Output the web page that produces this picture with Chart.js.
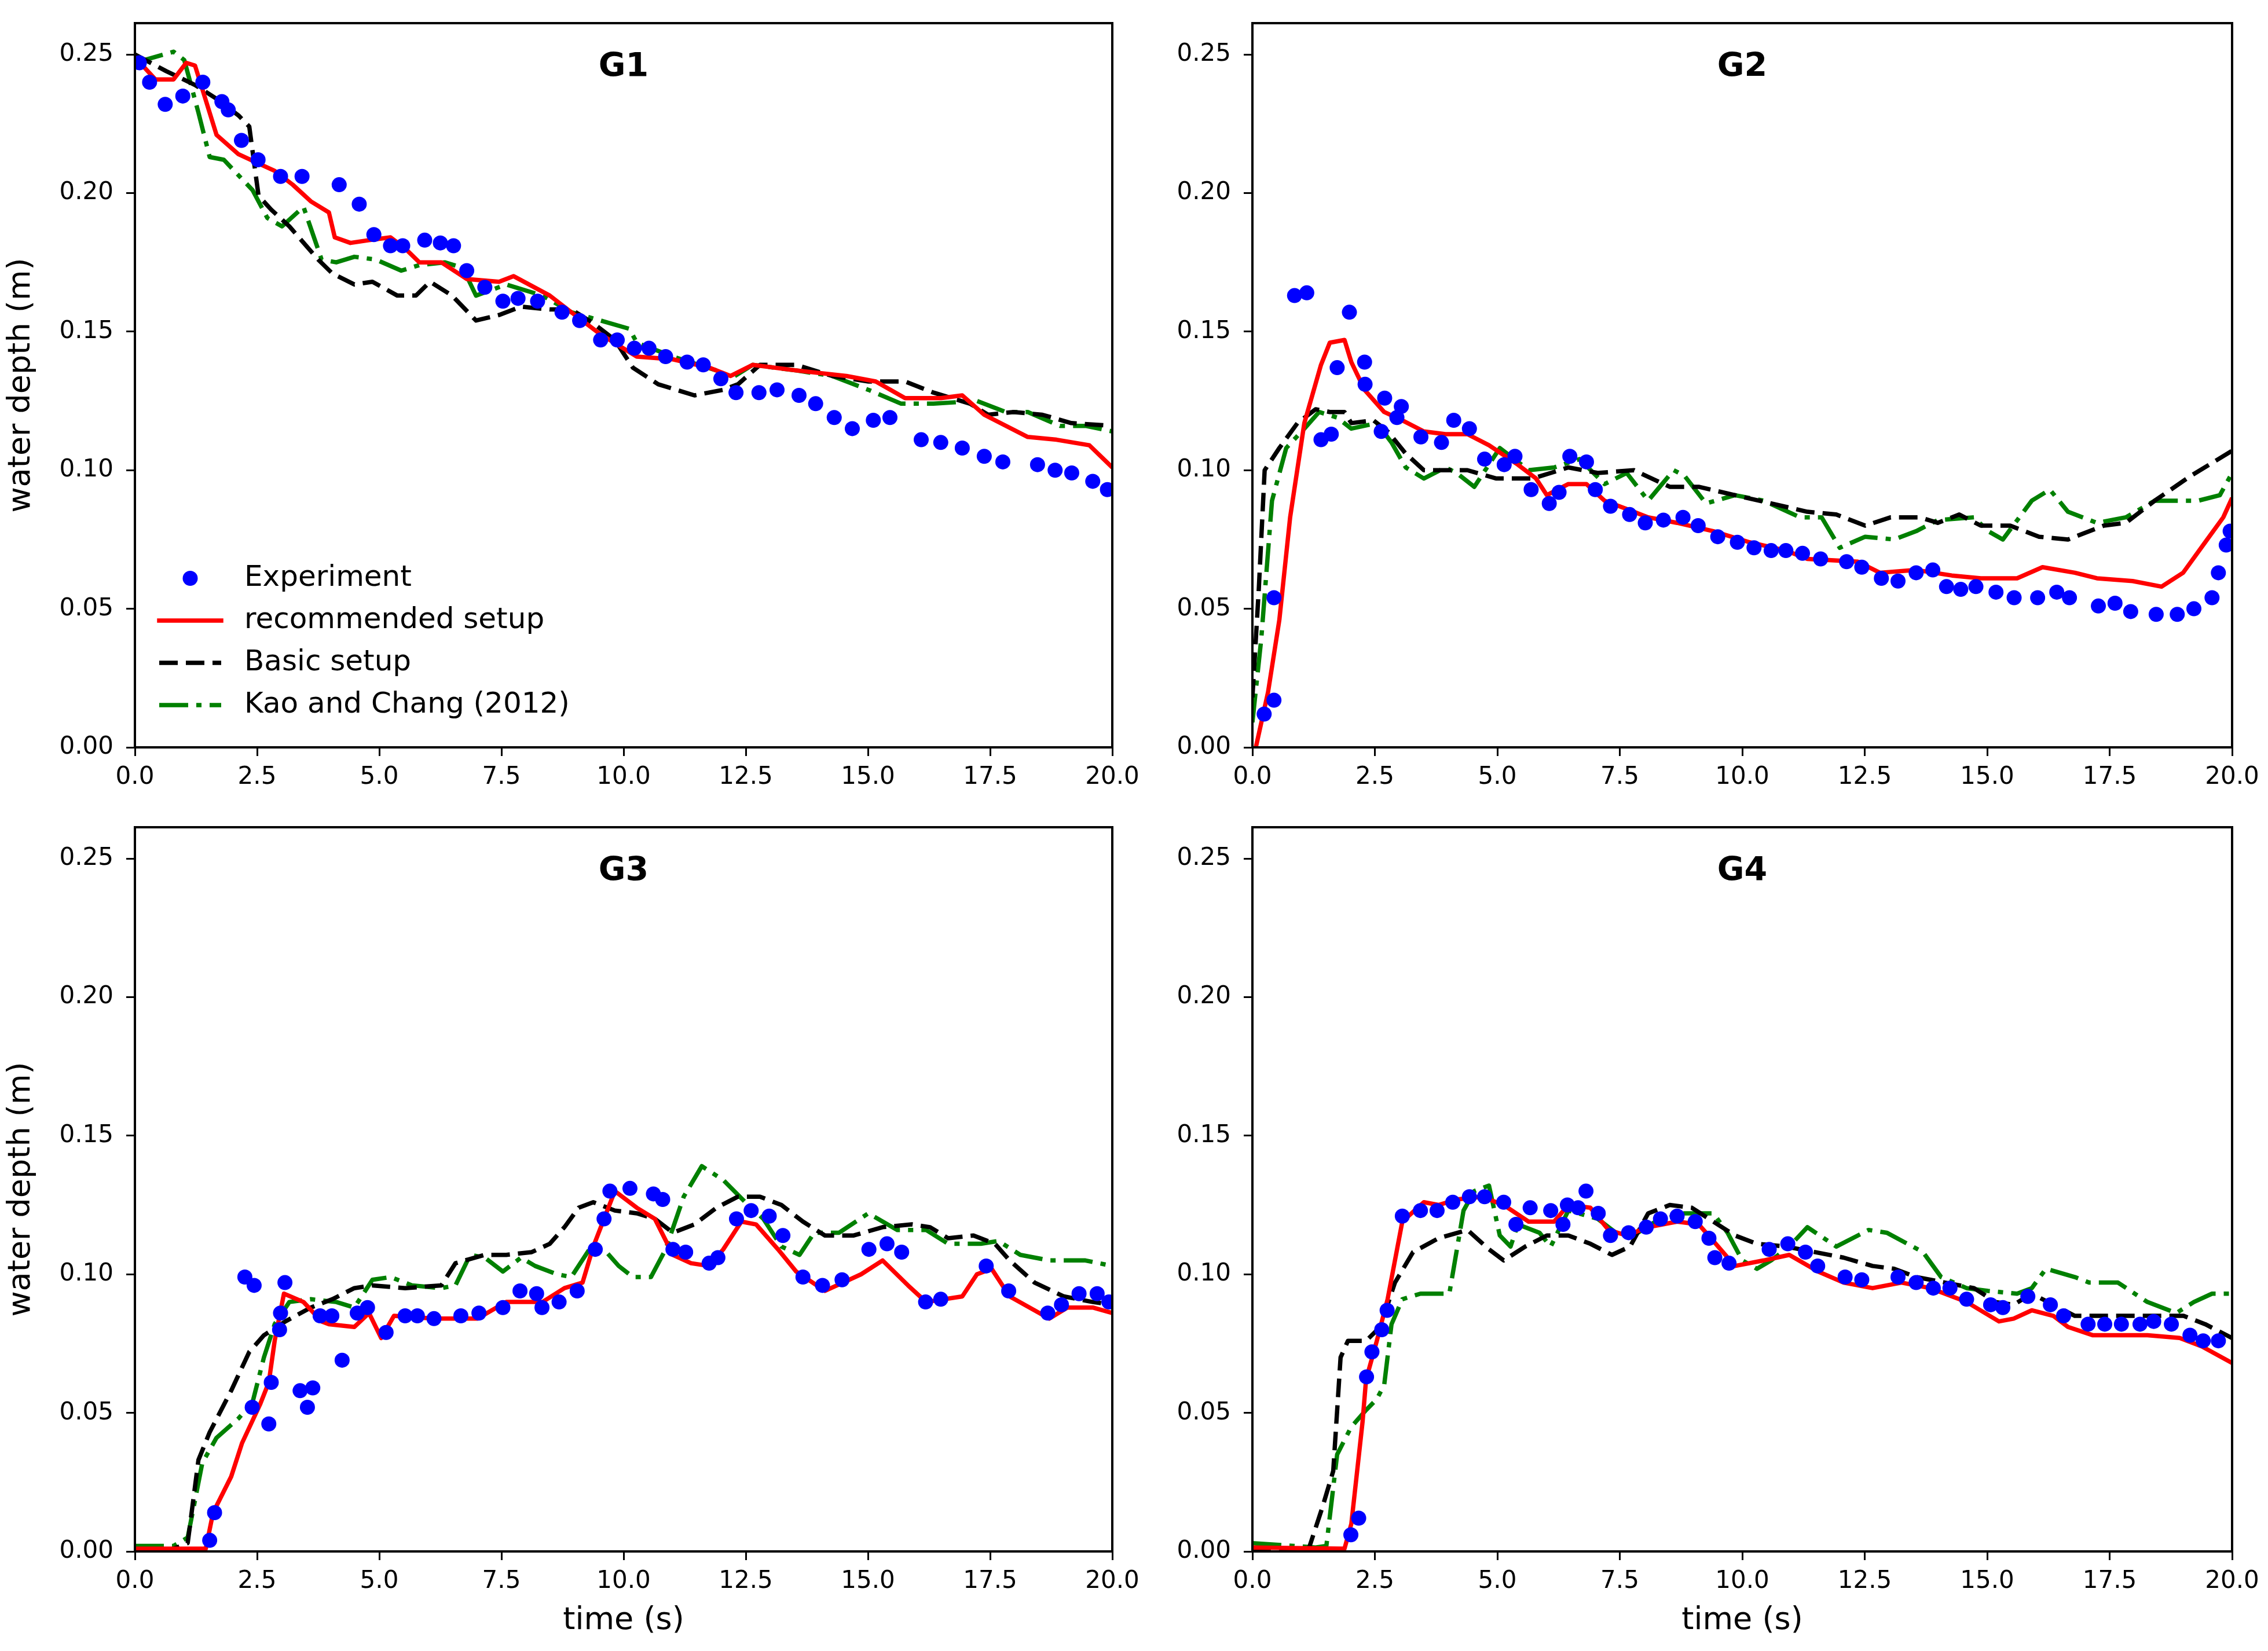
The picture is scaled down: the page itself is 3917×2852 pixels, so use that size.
<!DOCTYPE html>
<html>
<head>
<meta charset="utf-8">
<script src="https://cdn.jsdelivr.net/npm/chart.js@4.4.1/dist/chart.umd.min.js"></script>
<style>
  html, body { margin: 0; padding: 0; background: #fff; }
  body { width: 3917px; height: 2852px; position: relative; overflow: hidden; }
  canvas { position: absolute; }
</style>
</head>
<body>
<canvas id="g1" width="2000" height="1400" style="left:0;top:0;width:2000px;height:1400px"></canvas>
<canvas id="g2" width="1959" height="1400" style="left:1958px;top:0;width:1959px;height:1400px"></canvas>
<canvas id="g3" width="2000" height="1452" style="left:0;top:1400px;width:2000px;height:1452px"></canvas>
<canvas id="g4" width="1959" height="1452" style="left:1958px;top:1400px;width:1959px;height:1452px"></canvas>
<script>
// axis ticks
const xTicks = [0, 2.5, 5, 7.5, 10, 12.5, 15, 17.5, 20];
const yTicks = [0, 0.05, 0.1, 0.15, 0.2, 0.25];
const seriesNames = ["Experiment", "recommended setup", "Basic setup", "Kao and Chang (2012)"];

// G1  [time (s), depth (m)]
const g1Exp = [[0.09,0.247],[0.30,0.240],[0.62,0.232],[0.98,0.235],[1.39,0.240],[1.78,0.233],[1.91,0.230],[2.18,0.219],[2.52,0.212],[2.98,0.206],[3.42,0.206],[4.18,0.203],[4.59,0.196],[4.89,0.185],[5.23,0.181],[5.48,0.181],[5.93,0.183],[6.25,0.182],[6.52,0.181],[6.79,0.172],[7.16,0.166],[7.53,0.161],[7.84,0.162],[8.24,0.161],[8.74,0.157],[9.10,0.154],[9.53,0.147],[9.87,0.147],[10.22,0.144],[10.52,0.144],[10.86,0.141],[11.30,0.139],[11.63,0.138],[11.99,0.133],[12.30,0.128],[12.77,0.128],[13.14,0.129],[13.59,0.127],[13.93,0.124],[14.31,0.119],[14.68,0.115],[15.11,0.118],[15.45,0.119],[16.09,0.111],[16.49,0.110],[16.93,0.108],[17.38,0.105],[17.76,0.103],[18.47,0.102],[18.83,0.100],[19.17,0.099],[19.60,0.096],[19.90,0.093]];
const g1Rec = [[0,0.249],[0.42,0.241],[0.79,0.241],[1.05,0.247],[1.23,0.246],[1.67,0.221],[2.12,0.214],[2.49,0.211],[2.86,0.208],[3.23,0.203],[3.60,0.197],[3.97,0.193],[4.09,0.184],[4.41,0.182],[4.79,0.183],[5.23,0.184],[5.53,0.180],[5.82,0.175],[6.27,0.175],[6.79,0.169],[7.45,0.168],[7.75,0.170],[8.49,0.163],[8.93,0.157],[9.53,0.149],[10.27,0.141],[11.01,0.140],[11.75,0.137],[12.19,0.134],[12.64,0.138],[13.53,0.136],[14.56,0.134],[15.16,0.132],[15.76,0.126],[16.49,0.126],[16.93,0.127],[17.38,0.120],[18.27,0.112],[18.86,0.111],[19.53,0.109],[20.0,0.101]];
const g1Basic = [[0,0.250],[0.64,0.244],[1.23,0.239],[1.67,0.234],[2.12,0.228],[2.34,0.224],[2.53,0.199],[2.79,0.194],[3.16,0.188],[3.75,0.176],[4.04,0.171],[4.49,0.167],[4.86,0.168],[5.37,0.163],[5.75,0.163],[6.04,0.168],[6.49,0.163],[6.98,0.154],[7.45,0.156],[7.90,0.159],[8.49,0.158],[8.93,0.158],[9.38,0.153],[9.82,0.147],[10.19,0.137],[10.71,0.131],[11.45,0.127],[12.04,0.129],[12.34,0.131],[12.79,0.138],[13.53,0.138],[14.27,0.134],[15.01,0.132],[15.76,0.132],[16.34,0.128],[17.09,0.124],[17.46,0.120],[17.98,0.121],[18.57,0.120],[19.16,0.117],[20.0,0.116]];
const g1Kao = [[0,0.247],[0.79,0.251],[1.01,0.248],[1.30,0.229],[1.53,0.213],[1.82,0.212],[2.41,0.201],[2.71,0.191],[3.01,0.188],[3.45,0.195],[3.82,0.176],[4.12,0.175],[4.49,0.177],[4.93,0.176],[5.45,0.172],[5.82,0.174],[6.34,0.175],[6.71,0.173],[6.98,0.163],[7.60,0.167],[8.34,0.163],[8.93,0.157],[9.53,0.154],[10.12,0.151],[10.27,0.146],[11.01,0.141],[11.90,0.136],[12.19,0.133],[12.64,0.138],[13.53,0.136],[14.27,0.134],[15.01,0.129],[15.68,0.124],[16.34,0.124],[17.23,0.125],[17.82,0.121],[18.27,0.121],[18.93,0.116],[19.45,0.116],[20.0,0.114]];

// G2
const g2Exp = [[0.24,0.012],[0.44,0.017],[0.44,0.054],[0.86,0.163],[1.11,0.164],[1.40,0.111],[1.61,0.113],[1.73,0.137],[1.98,0.157],[2.29,0.139],[2.30,0.131],[2.63,0.114],[2.70,0.126],[2.95,0.119],[3.04,0.123],[3.44,0.112],[3.86,0.110],[4.11,0.118],[4.43,0.115],[4.74,0.104],[5.14,0.102],[5.36,0.105],[5.69,0.093],[6.06,0.088],[6.26,0.092],[6.48,0.105],[6.82,0.103],[7.00,0.093],[7.31,0.087],[7.70,0.084],[8.02,0.081],[8.39,0.082],[8.79,0.083],[9.10,0.080],[9.50,0.076],[9.90,0.074],[10.24,0.072],[10.59,0.071],[10.89,0.071],[11.23,0.070],[11.60,0.068],[12.13,0.067],[12.44,0.065],[12.84,0.061],[13.18,0.060],[13.55,0.063],[13.89,0.064],[14.17,0.058],[14.46,0.057],[14.77,0.058],[15.18,0.056],[15.55,0.054],[16.03,0.054],[16.42,0.056],[16.68,0.054],[17.27,0.051],[17.61,0.052],[17.93,0.049],[18.45,0.048],[18.88,0.048],[19.22,0.050],[19.59,0.054],[19.72,0.063],[19.88,0.073],[19.96,0.078]];
const g2Rec = [[0.07,0],[0.32,0.020],[0.55,0.046],[0.77,0.083],[1.06,0.117],[1.40,0.138],[1.58,0.146],[1.88,0.147],[2.02,0.139],[2.29,0.129],[2.69,0.121],[3.06,0.118],[3.50,0.114],[3.94,0.113],[4.39,0.113],[4.83,0.109],[5.42,0.102],[5.79,0.097],[6.01,0.091],[6.45,0.095],[6.82,0.095],[7.19,0.089],[7.64,0.086],[8.08,0.083],[8.67,0.081],[9.41,0.078],[10.15,0.074],[10.89,0.071],[11.33,0.068],[12.36,0.067],[12.81,0.063],[13.55,0.064],[14.28,0.062],[14.87,0.061],[15.61,0.061],[16.13,0.065],[16.79,0.063],[17.24,0.061],[17.97,0.060],[18.56,0.058],[19.0,0.063],[19.45,0.074],[19.82,0.083],[20.0,0.090]];
const g2Basic = [[0,0.018],[0.13,0.057],[0.25,0.100],[0.55,0.108],[0.92,0.117],[1.29,0.122],[1.58,0.121],[1.88,0.121],[2.02,0.117],[2.47,0.118],[2.76,0.114],[3.13,0.106],[3.50,0.100],[3.94,0.100],[4.39,0.100],[4.98,0.097],[5.72,0.097],[6.09,0.099],[6.45,0.101],[7.05,0.099],[7.79,0.100],[8.52,0.094],[9.11,0.094],[9.85,0.091],[10.59,0.088],[11.33,0.085],[11.92,0.084],[12.51,0.080],[13.03,0.083],[13.62,0.083],[13.99,0.081],[14.43,0.084],[14.87,0.080],[15.47,0.080],[16.06,0.076],[16.65,0.075],[17.38,0.080],[17.83,0.081],[18.42,0.089],[19.16,0.098],[20.0,0.107]];
const g2Kao = [[0,0.009],[0.18,0.039],[0.40,0.089],[0.69,0.108],[1.06,0.115],[1.36,0.121],[1.73,0.119],[2.02,0.115],[2.54,0.117],[2.84,0.110],[3.13,0.101],[3.50,0.097],[3.94,0.101],[4.17,0.099],[4.53,0.094],[5.05,0.108],[5.64,0.100],[6.16,0.101],[6.68,0.104],[7.19,0.095],[7.64,0.099],[8.08,0.089],[8.60,0.100],[8.82,0.098],[9.26,0.088],[9.85,0.091],[10.44,0.089],[11.18,0.083],[11.62,0.083],[11.99,0.072],[12.51,0.076],[13.10,0.075],[13.55,0.078],[13.99,0.082],[14.73,0.083],[15.02,0.078],[15.32,0.075],[15.91,0.089],[16.28,0.093],[16.65,0.085],[17.24,0.081],[17.83,0.083],[18.42,0.089],[19.31,0.089],[19.75,0.091],[20.0,0.099]];

// G3
const g3Exp = [[1.53,0.004],[1.63,0.014],[2.25,0.099],[2.44,0.096],[2.40,0.052],[2.74,0.046],[2.79,0.061],[2.96,0.080],[2.98,0.086],[3.07,0.097],[3.38,0.058],[3.53,0.052],[3.64,0.059],[3.79,0.085],[4.03,0.085],[4.24,0.069],[4.55,0.086],[4.76,0.088],[5.14,0.079],[5.53,0.085],[5.78,0.085],[6.12,0.084],[6.67,0.085],[7.04,0.086],[7.53,0.088],[7.88,0.094],[8.22,0.093],[8.33,0.088],[8.68,0.090],[9.05,0.094],[9.42,0.109],[9.60,0.120],[9.72,0.130],[10.13,0.131],[10.61,0.129],[10.80,0.127],[11.01,0.109],[11.27,0.108],[11.75,0.104],[11.93,0.106],[12.31,0.120],[12.61,0.123],[12.98,0.121],[13.26,0.114],[13.67,0.099],[14.07,0.096],[14.47,0.098],[15.02,0.109],[15.39,0.111],[15.69,0.108],[16.18,0.090],[16.49,0.091],[17.42,0.103],[17.88,0.094],[18.68,0.086],[18.96,0.089],[19.32,0.093],[19.69,0.093],[19.93,0.090]];
const g3Rec = [[0,0.001],[1.45,0.001],[1.60,0.014],[1.97,0.027],[2.19,0.039],[2.56,0.053],[2.74,0.061],[2.86,0.076],[3.05,0.093],[3.45,0.090],[3.82,0.083],[3.97,0.082],[4.49,0.081],[4.79,0.086],[5.04,0.077],[5.30,0.085],[6.12,0.084],[7.01,0.084],[7.60,0.090],[8.34,0.090],[8.79,0.095],[9.16,0.097],[9.38,0.110],[9.82,0.130],[10.27,0.124],[10.64,0.120],[11.01,0.107],[11.38,0.104],[11.75,0.103],[12.04,0.109],[12.41,0.119],[12.71,0.118],[13.16,0.109],[13.53,0.101],[14.12,0.094],[14.49,0.097],[14.86,0.100],[15.30,0.105],[15.82,0.096],[16.19,0.090],[16.93,0.092],[17.23,0.100],[17.53,0.102],[17.90,0.092],[18.71,0.084],[19.08,0.088],[19.60,0.088],[20.0,0.086]];
const g3Basic = [[0,0.0004],[0.71,0.0004],[1.08,0.003],[1.30,0.033],[1.53,0.043],[1.97,0.058],[2.34,0.072],[2.64,0.078],[3.08,0.083],[3.60,0.088],[4.04,0.091],[4.49,0.095],[4.86,0.096],[5.53,0.095],[6.27,0.096],[6.56,0.104],[7.16,0.107],[7.60,0.107],[8.12,0.108],[8.49,0.111],[8.79,0.117],[9.08,0.124],[9.38,0.126],[9.82,0.123],[10.27,0.122],[10.64,0.120],[11.01,0.115],[11.45,0.118],[11.90,0.124],[12.34,0.128],[12.79,0.128],[13.23,0.125],[13.67,0.119],[14.12,0.114],[14.71,0.114],[15.30,0.117],[15.90,0.118],[16.27,0.117],[16.64,0.113],[17.16,0.114],[17.60,0.111],[17.90,0.105],[18.41,0.097],[19.01,0.092],[19.60,0.090],[20.0,0.089]];
const g3Kao = [[0,0.002],[0.79,0.002],[1.08,0.005],[1.38,0.032],[1.67,0.041],[2.12,0.048],[2.41,0.054],[2.64,0.070],[2.86,0.082],[3.16,0.090],[3.60,0.091],[4.12,0.090],[4.49,0.088],[4.86,0.098],[5.23,0.099],[5.67,0.096],[6.27,0.095],[6.56,0.096],[6.86,0.107],[7.16,0.106],[7.53,0.101],[7.90,0.106],[8.19,0.103],[8.64,0.100],[8.93,0.099],[9.30,0.109],[9.60,0.109],[9.90,0.103],[10.19,0.099],[10.56,0.099],[10.86,0.109],[11.23,0.128],[11.60,0.139],[12.04,0.134],[12.49,0.126],[12.86,0.120],[13.23,0.110],[13.60,0.107],[13.90,0.115],[14.41,0.115],[15.01,0.122],[15.60,0.116],[16.19,0.116],[16.64,0.111],[17.31,0.111],[17.67,0.112],[18.12,0.107],[18.71,0.105],[19.45,0.105],[20.0,0.103]];

// G4
const g4Exp = [[2.01,0.006],[2.17,0.012],[2.33,0.063],[2.44,0.072],[2.64,0.080],[2.75,0.087],[3.06,0.121],[3.43,0.123],[3.77,0.123],[4.09,0.126],[4.43,0.128],[4.74,0.128],[5.13,0.126],[5.38,0.118],[5.67,0.124],[6.09,0.123],[6.34,0.118],[6.43,0.125],[6.65,0.124],[6.81,0.130],[7.06,0.122],[7.31,0.114],[7.68,0.115],[8.04,0.117],[8.33,0.120],[8.67,0.121],[9.04,0.119],[9.32,0.113],[9.44,0.106],[9.73,0.104],[10.55,0.109],[10.93,0.111],[11.29,0.108],[11.54,0.103],[12.10,0.099],[12.44,0.098],[13.18,0.099],[13.55,0.097],[13.90,0.095],[14.24,0.095],[14.58,0.091],[15.07,0.089],[15.32,0.088],[15.83,0.092],[16.29,0.089],[16.56,0.085],[17.06,0.082],[17.40,0.082],[17.74,0.082],[18.12,0.082],[18.40,0.083],[18.76,0.082],[19.14,0.078],[19.41,0.076],[19.72,0.076]];
const g4Rec = [[0,0.0014],[1.88,0.001],[2.02,0.010],[2.25,0.047],[2.32,0.062],[2.54,0.076],[2.76,0.091],[3.06,0.119],[3.50,0.126],[3.80,0.125],[4.17,0.127],[4.68,0.128],[5.13,0.125],[5.64,0.119],[6.16,0.119],[6.45,0.125],[6.90,0.124],[7.27,0.116],[7.64,0.114],[8.08,0.117],[8.67,0.119],[9.11,0.118],[9.41,0.112],[9.85,0.103],[10.44,0.105],[10.96,0.107],[11.55,0.101],[12.07,0.097],[12.66,0.095],[13.25,0.097],[13.84,0.095],[14.58,0.090],[15.24,0.083],[15.54,0.084],[15.91,0.087],[16.35,0.085],[16.65,0.081],[17.16,0.078],[17.61,0.078],[18.27,0.078],[18.93,0.077],[19.38,0.074],[20.0,0.068]];
const g4Basic = [[0,0.0008],[1.14,0.0004],[1.43,0.016],[1.65,0.029],[1.80,0.070],[1.95,0.076],[2.32,0.076],[2.61,0.081],[2.91,0.097],[3.28,0.108],[3.80,0.113],[4.39,0.116],[4.83,0.109],[5.13,0.105],[5.57,0.110],[6.01,0.114],[6.45,0.114],[6.90,0.111],[7.34,0.107],[7.71,0.110],[8.08,0.122],[8.52,0.125],[8.97,0.124],[9.41,0.119],[9.85,0.114],[10.30,0.111],[10.89,0.110],[11.48,0.108],[12.07,0.106],[12.66,0.103],[13.10,0.102],[13.55,0.099],[14.14,0.097],[14.73,0.095],[15.17,0.090],[15.54,0.089],[15.91,0.093],[16.35,0.089],[16.79,0.085],[17.38,0.085],[18.27,0.085],[19.01,0.085],[19.45,0.082],[20.0,0.077]];
const g4Kao = [[0,0.003],[0.84,0.002],[1.29,0.0014],[1.51,0.002],[1.73,0.035],[2.02,0.045],[2.32,0.051],[2.54,0.055],[2.69,0.060],[2.84,0.082],[3.06,0.091],[3.43,0.093],[4.02,0.093],[4.31,0.123],[4.53,0.130],[4.83,0.132],[5.05,0.114],[5.27,0.110],[5.42,0.118],[5.86,0.115],[6.09,0.110],[6.45,0.123],[7.05,0.120],[7.42,0.115],[7.78,0.114],[8.23,0.119],[8.82,0.122],[9.41,0.122],[9.70,0.115],[10.0,0.105],[10.30,0.102],[10.59,0.105],[10.96,0.110],[11.33,0.117],[11.92,0.110],[12.36,0.114],[12.58,0.116],[12.95,0.115],[13.69,0.108],[14.06,0.099],[14.58,0.095],[15.02,0.094],[15.61,0.093],[15.91,0.095],[16.20,0.102],[16.79,0.099],[17.08,0.097],[17.67,0.097],[18.27,0.090],[18.86,0.086],[19.22,0.090],[19.59,0.093],[20.0,0.093]];

Chart.defaults.font.family = '"DejaVu Sans"';
Chart.defaults.color = "#000";

// frame, panel label and (optional) legend drawn inside the axes
const panelDecor = {
  id: "panelDecor",
  afterDraw(chart, args, opts) {
    const { ctx, chartArea: a } = chart;
    ctx.save();
    ctx.strokeStyle = "#000";
    ctx.lineWidth = 4;
    ctx.strokeRect(a.left, a.top, a.right - a.left, a.bottom - a.top);

    ctx.fillStyle = "#000";
    ctx.font = 'bold 57px "DejaVu Sans"';
    ctx.textAlign = "center";
    ctx.textBaseline = "middle";
    ctx.fillText(opts.label, (a.left + a.right) / 2, a.top + 77);

    if (opts.legend) {
      const x0 = a.left + 42, x1 = a.left + 149;
      ctx.font = '50px "DejaVu Sans"';
      ctx.textAlign = "left";
      chart.data.datasets.forEach((ds, i) => {
        const y = a.bottom - 292 + i * 73;
        if (ds.showLine) {
          ctx.strokeStyle = ds.borderColor;
          ctx.lineWidth = ds.borderWidth;
          ctx.setLineDash(ds.borderDash || []);
          ctx.lineCap = ds.borderDash ? "butt" : "square";
          ctx.beginPath();
          ctx.moveTo(x0, y);
          ctx.lineTo(x1, y);
          ctx.stroke();
          ctx.setLineDash([]);
        } else {
          ctx.fillStyle = ds.pointBackgroundColor;
          ctx.beginPath();
          ctx.arc((x0 + x1) / 2, y, ds.pointRadius, 0, Math.PI * 2);
          ctx.fill();
        }
        ctx.fillStyle = "#000";
        ctx.fillText(ds.label, a.left + 189, y);
      });
    }
    ctx.restore();
  }
};

const toXY = (pts) => pts.map(([x, y]) => ({ x, y }));

function lineSet(label, pts, color, dash) {
  return {
    label,
    data: toXY(pts),
    showLine: true,
    borderColor: color,
    borderWidth: 7.5,
    borderDash: dash,
    borderJoinStyle: "round",
    pointRadius: 0,
    tension: 0,
    clip: 0
  };
}

function panel(id, label, series, opts) {
  const [exp, rec, basic, kao] = series;
  new Chart(document.getElementById(id), {
    type: "scatter",
    data: {
      datasets: [
        {
          label: seriesNames[0],
          data: toXY(exp),
          showLine: false,
          pointRadius: 13,
          pointBorderWidth: 0,
          pointBackgroundColor: "#0000ff",
          pointBorderColor: "#0000ff",
          clip: 0
        },
        lineSet(seriesNames[1], rec, "#ff0000"),
        lineSet(seriesNames[2], basic, "#000000", [32, 14]),
        lineSet(seriesNames[3], kao, "#008000", [50, 14, 9, 14])
      ]
    },
    options: {
      responsive: false,
      animation: false,
      devicePixelRatio: 1,
      layout: { padding: { top: opts.padTop, right: opts.padRight, left: 0, bottom: 0 } },
      plugins: {
        legend: { display: false },
        tooltip: { enabled: false },
        panelDecor: { label, legend: opts.legend }
      },
      scales: {
        x: {
          type: "linear",
          min: 0,
          max: 20,
          afterBuildTicks: (s) => { s.ticks = xTicks.map((v) => ({ value: v })); },
          afterFit: (s) => { s.height = opts.xHeight; s.paddingLeft = 0; s.paddingRight = 0; },
          grid: { display: true, drawOnChartArea: false, drawTicks: true, tickLength: 15, color: "#000", lineWidth: 3 },
          border: { display: false },
          ticks: { padding: 12, font: { size: 42 }, color: "#000", maxRotation: 0, callback: (v) => Number(v).toFixed(1) },
          title: { display: opts.xTitle, text: "time (s)", font: { size: 54 }, color: "#000", padding: { top: 0, bottom: 20 } }
        },
        y: {
          type: "linear",
          min: 0,
          max: 0.2613,
          afterBuildTicks: (s) => { s.ticks = yTicks.map((v) => ({ value: v })); },
          afterFit: (s) => { s.width = opts.yWidth; s.paddingTop = 0; s.paddingBottom = 0; },
          grid: { display: true, drawOnChartArea: false, drawTicks: true, tickLength: 15, color: "#000", lineWidth: 3 },
          border: { display: false },
          ticks: { padding: 22, font: { size: 42 }, color: "#000", callback: (v) => Number(v).toFixed(2) },
          title: { display: opts.yTitle, text: "water depth (m)", font: { size: 54 }, color: "#000", padding: { top: 5, bottom: 0 } }
        }
      }
    },
    plugins: [panelDecor]
  });
}

panel("g1", "G1", [g1Exp, g1Rec, g1Basic, g1Kao], { padTop: 40, padRight: 79, xHeight: 109, yWidth: 233, xTitle: false, yTitle: true, legend: true });
panel("g2", "G2", [g2Exp, g2Rec, g2Basic, g2Kao], { padTop: 40, padRight: 62, xHeight: 109, yWidth: 205, xTitle: false, yTitle: false, legend: false });
panel("g3", "G3", [g3Exp, g3Rec, g3Basic, g3Kao], { padTop: 29, padRight: 79, xHeight: 172, yWidth: 233, xTitle: true, yTitle: true, legend: false });
panel("g4", "G4", [g4Exp, g4Rec, g4Basic, g4Kao], { padTop: 29, padRight: 62, xHeight: 172, yWidth: 205, xTitle: true, yTitle: false, legend: false });
</script>
</body>
</html>
